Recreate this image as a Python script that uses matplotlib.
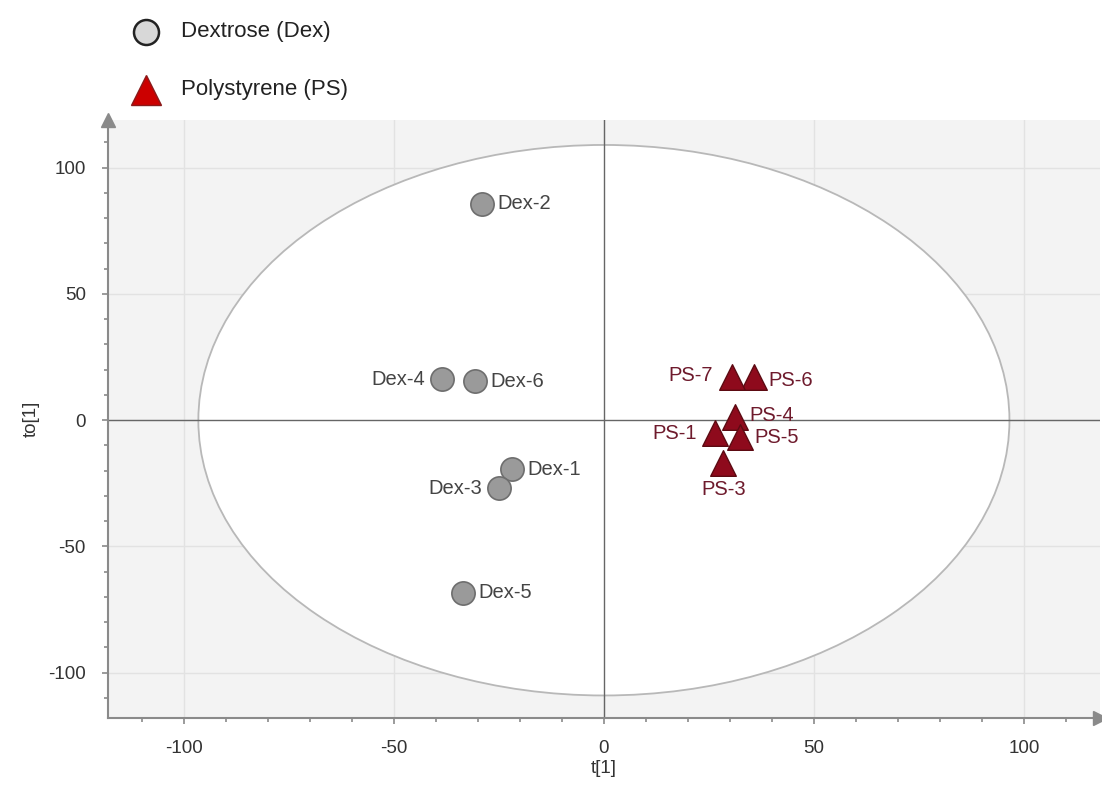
import matplotlib.pyplot as plt
from matplotlib.patches import Ellipse

plt.rcParams['font.family'] = ['Liberation Sans', 'DejaVu Sans']
plt.rcParams['axes.unicode_minus'] = False

# Scores (t[1], to[1])
dex_names = ['Dex-1', 'Dex-2', 'Dex-3', 'Dex-4', 'Dex-5', 'Dex-6']
dex_t = [-21.8, -29.1, -24.9, -38.6, -33.6, -30.6]
dex_to = [-19.4, 85.7, -27.0, 16.3, -68.3, 15.5]

ps_names = ['PS-1', 'PS-3', 'PS-4', 'PS-5', 'PS-6', 'PS-7']
ps_t = [26.5, 28.4, 31.3, 32.5, 35.8, 30.6]
ps_to = [-5.2, -17.0, 1.2, -6.7, 17.0, 17.0]

ticks = [-100, -50, 0, 50, 100]
ellipse_w, ellipse_h = 193, 218

fig = plt.figure(figsize=(11.02, 7.98), dpi=100)
ax = fig.add_axes([0.098, 0.1, 0.9, 0.75])
ax.set_facecolor('#f3f3f3')
ax.set_xlim(-118, 118)
ax.set_ylim(-118, 119)

ax.add_patch(Ellipse((0, 0), ellipse_w, ellipse_h, facecolor='white',
                     edgecolor='#b8b8b8', linewidth=1.3, zorder=1))

ax.set_xticks(ticks)
ax.set_yticks(ticks)
ax.set_xticks(range(-110, 111, 10), minor=True)
ax.set_yticks(range(-110, 111, 10), minor=True)
ax.grid(True, which='major', color='#e2e2e2', linewidth=1, zorder=0)
ax.set_axisbelow(True)
ax.axhline(0, color='#666666', linewidth=1, zorder=2)
ax.axvline(0, color='#666666', linewidth=1, zorder=2)

for s in ['top', 'right']:
    ax.spines[s].set_visible(False)
for s in ['left', 'bottom']:
    ax.spines[s].set_color('#8a8a8a')
    ax.spines[s].set_linewidth(1.5)
ax.tick_params(which='both', colors='#8a8a8a', labelcolor='#333333', labelsize=13.5,
               direction='out', length=4, width=1.2, pad=12)
ax.tick_params(which='minor', length=3)

# arrowheads at ends of axes
ax.plot(1, 0, '>', color='#8a8a8a', markersize=10, transform=ax.transAxes, clip_on=False)
ax.plot(0, 1, '^', color='#8a8a8a', markersize=10, transform=ax.transAxes, clip_on=False)

ax.scatter(dex_t, dex_to, s=280, color='#9a9a9a', edgecolor='#6e6e6e', linewidth=1.2, zorder=4)
ax.scatter(ps_t, ps_to, s=340, marker='^', color='#8e0a1c', edgecolor='#5c0a12', linewidth=1, zorder=4)

dex_side = {'Dex-3': 'left', 'Dex-4': 'left'}
for n, x, y in zip(dex_names, dex_t, dex_to):
    if dex_side.get(n) == 'left':
        ax.annotate(n, (x, y), xytext=(-12, 0), textcoords='offset points',
                    ha='right', va='center', fontsize=14.5, color='#444444', zorder=5)
    else:
        ax.annotate(n, (x, y), xytext=(11, 0), textcoords='offset points',
                    ha='left', va='center', fontsize=14.5, color='#444444', zorder=5)

ps_offsets = {'PS-1': (-13, 0, 'right', 'center'), 'PS-3': (0, -12, 'center', 'top'),
              'PS-4': (10, 1, 'left', 'center'), 'PS-5': (10, 0, 'left', 'center'),
              'PS-6': (10, -2, 'left', 'center'), 'PS-7': (-14, 1, 'right', 'center')}
for n, x, y in zip(ps_names, ps_t, ps_to):
    dx, dy, ha, va = ps_offsets[n]
    ax.annotate(n, (x, y), xytext=(dx, dy), textcoords='offset points',
                ha=ha, va=va, fontsize=14.5, color='#6e1a2c', zorder=5)

ax.set_xlabel('t[1]', fontsize=13.5, color='#333333', labelpad=2)
ax.set_ylabel('to[1]', fontsize=13.5, color='#333333', labelpad=6)

# legend at top
fig.lines.append(plt.Line2D([146 / 1102], [1 - 32 / 798], marker='o', markersize=18,
                            markerfacecolor='#d8d8d8', markeredgecolor='#222222',
                            markeredgewidth=1.8, transform=fig.transFigure))
fig.lines.append(plt.Line2D([146 / 1102], [1 - 90 / 798], marker='^', markersize=21,
                            markerfacecolor='#cc0000', markeredgecolor='#8a1a1a',
                            markeredgewidth=1, transform=fig.transFigure))
fig.text(181 / 1102, 1 - 32 / 798, 'Dextrose (Dex)', fontsize=16, color='#222222', va='center')
fig.text(181 / 1102, 1 - 90 / 798, 'Polystyrene (PS)', fontsize=16, color='#222222', va='center')

fig.savefig('out.png', dpi=100)
